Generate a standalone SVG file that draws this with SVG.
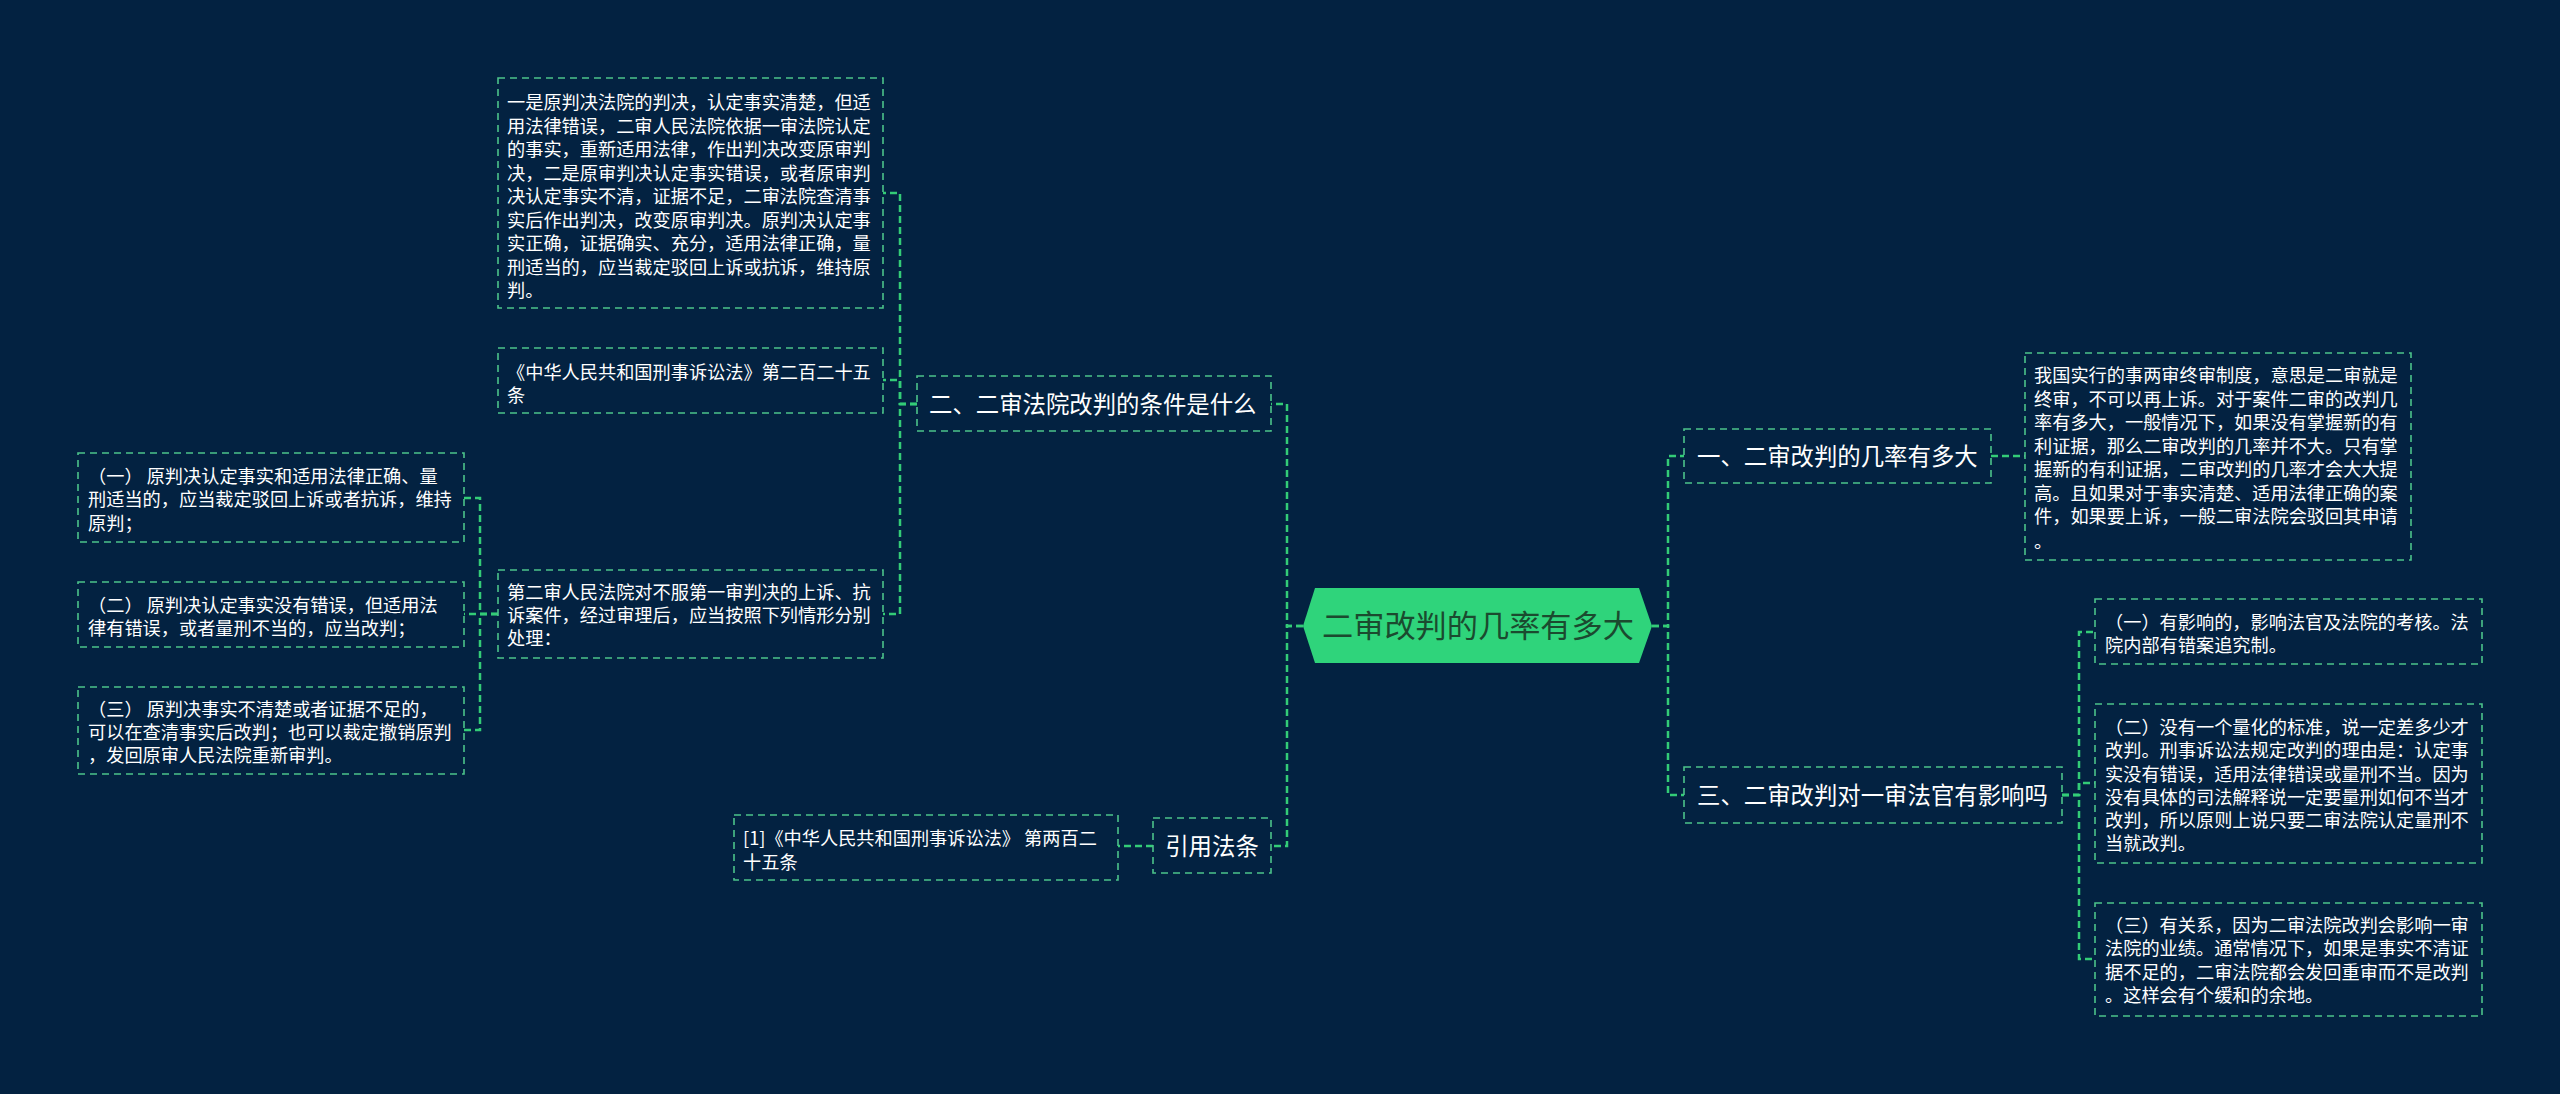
<svg xmlns="http://www.w3.org/2000/svg" width="2560" height="1094" viewBox="0 0 2560 1094">
<style>
.bg{fill:#032241}
.box{fill:none;stroke:#4cc38a;stroke-width:1.6;stroke-dasharray:7 5}
.t{font-family:"Noto Sans CJK SC","Noto Sans",sans-serif;font-size:18.2px;fill:#ffffff}
.b{font-family:"Noto Sans CJK SC","Noto Sans",sans-serif;font-size:23.4px;fill:#ffffff}
.r{font-family:"Noto Sans CJK SC","Noto Sans",sans-serif;font-size:31.2px;fill:#1b4a2f}
.c{fill:none;stroke:#33cc77;stroke-width:2.5;stroke-dasharray:7 4}
</style>
<rect class="bg" x="0" y="0" width="2560" height="1094"/>
<g id="connectors">
<path class="c" d="M1303,626 H1287 V404 H1271"/>
<path class="c" d="M1303,626 H1287 V846 H1271"/>
<path class="c" d="M917,404 H900 V193 H883"/>
<path class="c" d="M917,404 H900 V380 H883"/>
<path class="c" d="M917,404 H900 V614 H883"/>
<path class="c" d="M498,614 H480 V498 H464"/>
<path class="c" d="M498,614 H480 V614 H464"/>
<path class="c" d="M498,614 H480 V730 H464"/>
<path class="c" d="M1153,846 H1118"/>
<path class="c" d="M1652,626 H1668 V456 H1684"/>
<path class="c" d="M1652,626 H1668 V795 H1684"/>
<path class="c" d="M1991,456 H2025"/>
<path class="c" d="M2062,795 H2079 V632 H2095"/>
<path class="c" d="M2062,795 H2079 V783 H2095"/>
<path class="c" d="M2062,795 H2079 V959 H2095"/>
</g>
<g id="root">
<polygon points="1303,626 1315,588 1639,588 1652,626 1639,663 1315,663" fill="#2fd47b"/>
<text class="r" x="1478" y="637" text-anchor="middle">二审改判的几率有多大</text>
</g>
<g id="branch2">
<rect class="box" x="917" y="376" width="354" height="55"/>
<text class="b" x="929" y="413">二、二审法院改判的条件是什么</text>
</g>
<g id="leaf2a">
<rect class="box" x="498" y="78" width="385" height="230"/>
<text class="t" x="507" y="109">一是原判决法院的判决，认定事实清楚，但适</text>
<text class="t" x="507" y="132.5">用法律错误，二审人民法院依据一审法院认定</text>
<text class="t" x="507" y="156">的事实，重新适用法律，作出判决改变原审判</text>
<text class="t" x="507" y="179.5">决，二是原审判决认定事实错误，或者原审判</text>
<text class="t" x="507" y="203">决认定事实不清，证据不足，二审法院查清事</text>
<text class="t" x="507" y="226.5">实后作出判决，改变原审判决。原判决认定事</text>
<text class="t" x="507" y="250">实正确，证据确实、充分，适用法律正确，量</text>
<text class="t" x="507" y="273.5">刑适当的，应当裁定驳回上诉或抗诉，维持原</text>
<text class="t" x="507" y="297">判。</text>
</g>
<g id="leaf2b">
<rect class="box" x="498" y="348" width="385" height="65"/>
<text class="t" x="507" y="379">《中华人民共和国刑事诉讼法》第二百二十五</text>
<text class="t" x="507" y="402">条</text>
</g>
<g id="leaf2c">
<rect class="box" x="498" y="570" width="385" height="88"/>
<text class="t" x="507" y="599">第二审人民法院对不服第一审判决的上诉、抗</text>
<text class="t" x="507" y="622">诉案件，经过审理后，应当按照下列情形分别</text>
<text class="t" x="507" y="645">处理：</text>
</g>
<g id="leaf2c1">
<rect class="box" x="78" y="453" width="386" height="89"/>
<text class="t" x="88" y="483">（一） 原判决认定事实和适用法律正确、量</text>
<text class="t" x="88" y="506">刑适当的，应当裁定驳回上诉或者抗诉，维持</text>
<text class="t" x="88" y="530">原判；</text>
</g>
<g id="leaf2c2">
<rect class="box" x="78" y="582" width="386" height="65"/>
<text class="t" x="88" y="612">（二） 原判决认定事实没有错误，但适用法</text>
<text class="t" x="88" y="635">律有错误，或者量刑不当的，应当改判；</text>
</g>
<g id="leaf2c3">
<rect class="box" x="78" y="687" width="386" height="87"/>
<text class="t" x="88" y="716">（三） 原判决事实不清楚或者证据不足的，</text>
<text class="t" x="88" y="739">可以在查清事实后改判；也可以裁定撤销原判</text>
<text class="t" x="88" y="762">，发回原审人民法院重新审判。</text>
</g>
<g id="branchRef">
<rect class="box" x="1153" y="818" width="118" height="55"/>
<text class="b" x="1212" y="855" text-anchor="middle">引用法条</text>
</g>
<g id="leafRef">
<rect class="box" x="734" y="815" width="384" height="65"/>
<text class="t" x="743" y="845">[1]《中华人民共和国刑事诉讼法》 第两百二</text>
<text class="t" x="743" y="869">十五条</text>
</g>
<g id="branch1">
<rect class="box" x="1684" y="429" width="307" height="54"/>
<text class="b" x="1697" y="465">一、二审改判的几率有多大</text>
</g>
<g id="leaf1">
<rect class="box" x="2025" y="353" width="386" height="207"/>
<text class="t" x="2034" y="382">我国实行的事两审终审制度，意思是二审就是</text>
<text class="t" x="2034" y="405.5">终审，不可以再上诉。对于案件二审的改判几</text>
<text class="t" x="2034" y="429">率有多大，一般情况下，如果没有掌握新的有</text>
<text class="t" x="2034" y="452.5">利证据，那么二审改判的几率并不大。只有掌</text>
<text class="t" x="2034" y="476">握新的有利证据，二审改判的几率才会大大提</text>
<text class="t" x="2034" y="499.5">高。且如果对于事实清楚、适用法律正确的案</text>
<text class="t" x="2034" y="523">件，如果要上诉，一般二审法院会驳回其申请</text>
<text class="t" x="2034" y="548">。</text>
</g>
<g id="branch3">
<rect class="box" x="1684" y="767" width="378" height="56"/>
<text class="b" x="1697" y="804">三、二审改判对一审法官有影响吗</text>
</g>
<g id="leaf3a">
<rect class="box" x="2095" y="599" width="387" height="65"/>
<text class="t" x="2105" y="629">（一）有影响的，影响法官及法院的考核。法</text>
<text class="t" x="2105" y="652">院内部有错案追究制。</text>
</g>
<g id="leaf3b">
<rect class="box" x="2095" y="704" width="387" height="159"/>
<text class="t" x="2105" y="734">（二）没有一个量化的标准，说一定差多少才</text>
<text class="t" x="2105" y="757">改判。刑事诉讼法规定改判的理由是：认定事</text>
<text class="t" x="2105" y="780.5">实没有错误，适用法律错误或量刑不当。因为</text>
<text class="t" x="2105" y="804">没有具体的司法解释说一定要量刑如何不当才</text>
<text class="t" x="2105" y="827">改判，所以原则上说只要二审法院认定量刑不</text>
<text class="t" x="2105" y="850">当就改判。</text>
</g>
<g id="leaf3c">
<rect class="box" x="2095" y="903" width="387" height="113"/>
<text class="t" x="2105" y="932">（三）有关系，因为二审法院改判会影响一审</text>
<text class="t" x="2105" y="955">法院的业绩。通常情况下，如果是事实不清证</text>
<text class="t" x="2105" y="979">据不足的，二审法院都会发回重审而不是改判</text>
<text class="t" x="2105" y="1002">。这样会有个缓和的余地。</text>
</g>
</svg>
